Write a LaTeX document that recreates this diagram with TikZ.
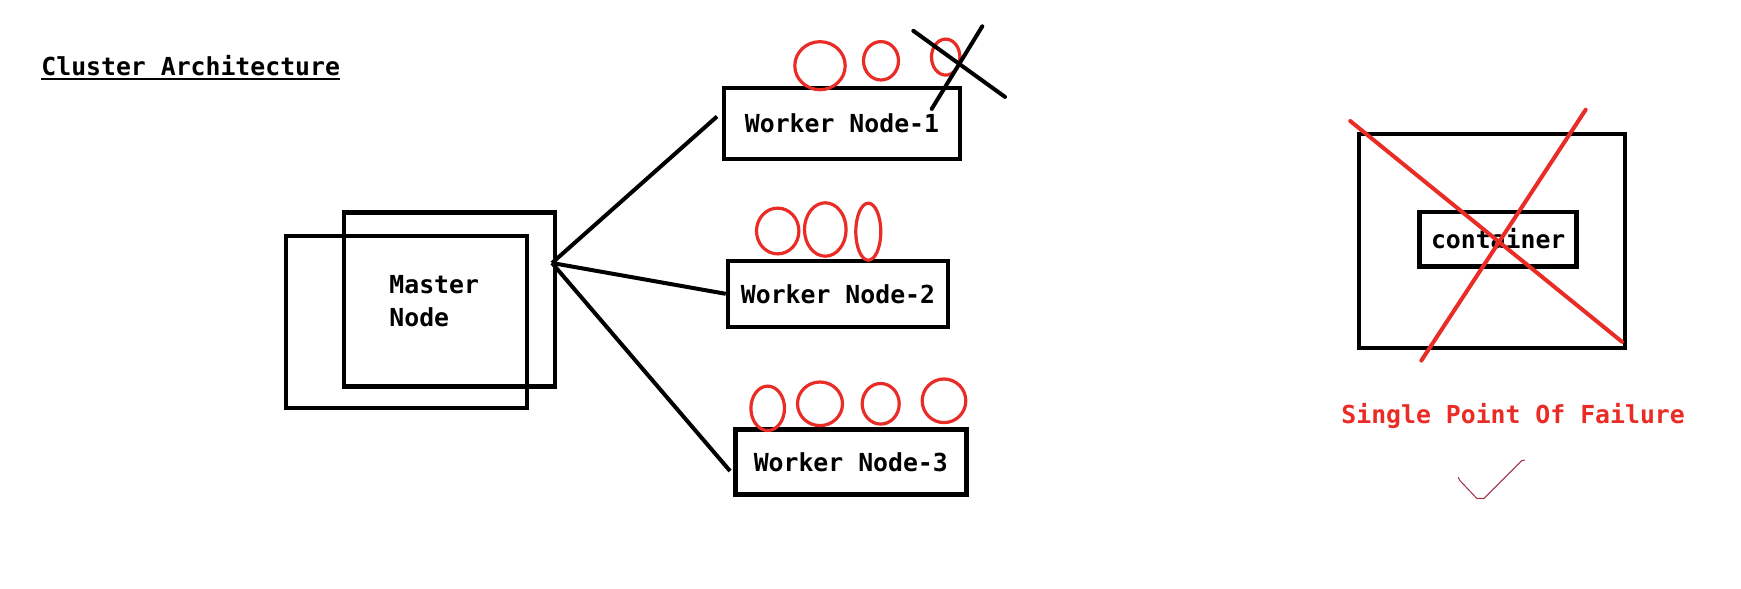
\documentclass[tikz,border=0pt]{standalone}
\usepackage{fontspec}
\setmainfont{DejaVu Sans Mono}
\usetikzlibrary{calc}
\definecolor{pred}{RGB}{234,44,38}
\definecolor{tickred}{RGB}{160,48,72}
\tikzset{
  box/.style={draw=black,line width=2.25pt,rectangle,inner sep=0pt,font=\fontsize{12.4}{16.5}\selectfont\bfseries},
  lbl/.style={inner sep=0pt,font=\fontsize{12.4}{16.5}\selectfont\bfseries},
  link/.style={draw=black,line width=2pt},
  pod/.style={draw=pred,line width=1.6pt},
  cross/.style={line width=2pt,line cap=round},
}
\begin{document}
\begin{tikzpicture}[x=0.5pt,y=-0.5pt]
\useasboundingbox (0,0) rectangle (1741,589);
\fill[white] (0,0) rectangle (1741,589);
% title
\node[lbl,anchor=base west] (title) at (41,75) {Cluster Architecture};
\draw[line width=1.15pt] ($(title.base west)+(0,4)$) -- ($(title.base east)+(0,4)$);
% master node
\node[box,minimum width=120.5pt,minimum height=86pt] (mA) at (406.5,322) {};
\node[box,minimum width=105.5pt,minimum height=87pt] (mB) at (449.5,299.5) {};
\node[lbl,anchor=base west,align=left] (mtext) at (389,326) {Master\\Node};
\coordinate (hub) at (552,263);
% workers
\node[box,minimum width=118pt,minimum height=35.5pt] (w1) at (842,123.5) {Worker Node-1};
\node[box,minimum width=110pt,minimum height=33pt] (w2) at (838,293.8) {Worker Node-2};
\node[box,minimum width=115.5pt,minimum height=32.3pt] (w3) at (850.8,462) {Worker Node-3};
\draw[link] (hub) -- ($(w1.west)+(-4.75,-7)$);
\draw[link] (hub) -- (w2.west);
\draw[link] (hub) -- ($(w3.west)+(-3,9)$);
% pods
\draw[pod] (820,65.7) ellipse [x radius=25.2, y radius=24];
\draw[pod] (881,60.8) ellipse [x radius=17.5, y radius=19.2];
\draw[pod] (945.7,57.1) ellipse [x radius=14.2, y radius=18];
\draw[pod] (777.7,231) ellipse [x radius=21.2, y radius=22.9];
\draw[pod] (825.3,229.5) ellipse [x radius=20.8, y radius=26.7];
\draw[pod] (868.3,231.7) ellipse [x radius=12.5, y radius=28.5];
\draw[pod] (767.7,408.3) ellipse [x radius=16.8, y radius=22.2];
\draw[pod] (820,403.8) ellipse [x radius=22.5, y radius=21.8];
\draw[pod] (880.7,403.8) ellipse [x radius=18.5, y radius=20.3];
\draw[pod] (944,400.8) ellipse [x radius=21.8, y radius=21.8];
% black cross over failed pod
\draw[cross,black] (913.3,30.8) -- (1005,96.9);
\draw[cross,black] (982.3,26.3) -- (931.7,108.9);
% single container
\node[box,minimum width=133pt,minimum height=107pt] (host) at (1492,240.75) {};
\node[box,minimum width=78.5pt,minimum height=27.25pt] (ctr) at (1498.2,239) {container};
\draw[cross,pred] (1350.2,121) -- (1622,341.8);
\draw[cross,pred] (1585.7,109.7) -- (1421.3,360.6);
\node[lbl,anchor=base west,text=pred] (spof) at (1341,423.7) {Single Point Of Failure};
% tick
\draw[tickred,line width=0.5pt] (1458.3,477.3) -- (1460,480.7) -- (1476.7,498.3) -- (1484,498.3) -- (1521.7,460.7) -- (1525,460);
\end{tikzpicture}
\end{document}
